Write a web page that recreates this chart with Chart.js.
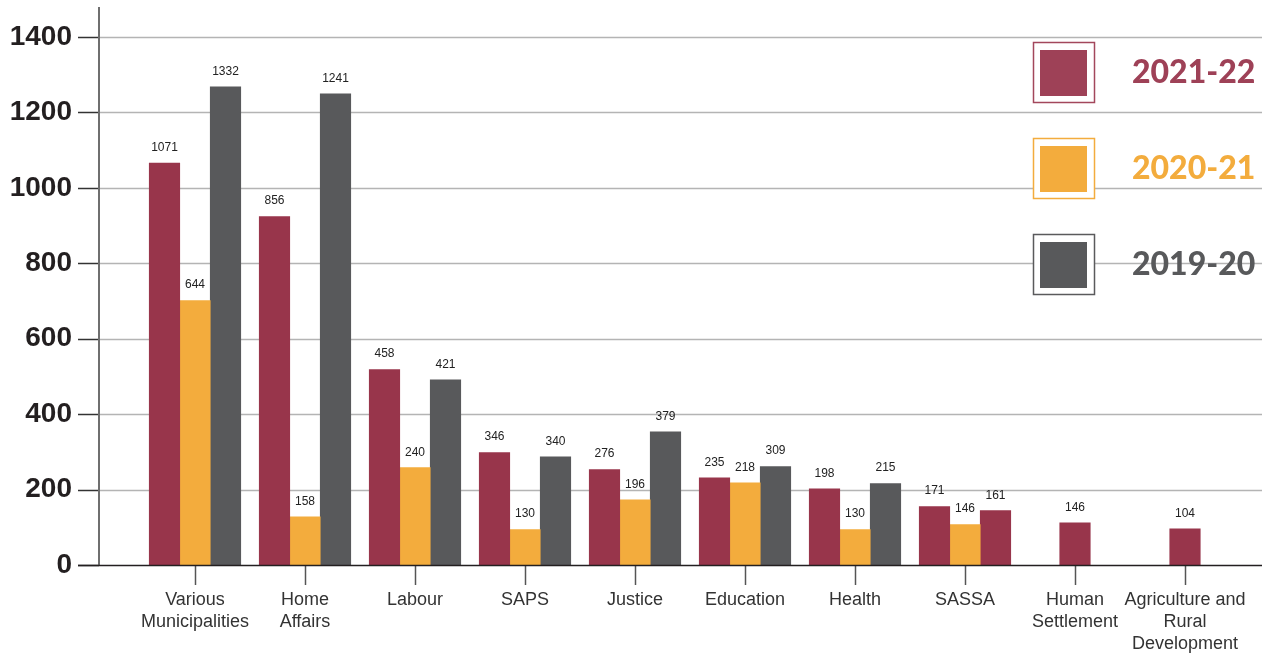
<!DOCTYPE html>
<html>
<head>
<meta charset="utf-8">
<script src="https://cdn.jsdelivr.net/npm/chart.js@4.4.1/dist/chart.umd.min.js"></script>
<style>
  html, body { margin: 0; padding: 0; background: #fff; }
</style>
</head>
<body>
<canvas id="chart" width="1271" height="654"></canvas>
<script>
const categories = [
  ["Various", "Municipalities"], ["Home", "Affairs"], "Labour", "SAPS", "Justice",
  "Education", "Health", "SASSA", ["Human", "Settlement"], ["Agriculture and", "Rural", "Development"]
];

// bar heights as they are drawn in the picture
const bars2122 = [1066, 924, 518, 298, 253, 231, 202, 155, 112, 96];
const bars2021 = [701, 128, 258, 94, 173, 218, 94, 107, null, null];
const bars1920 = [1268, 1249, 491, 287, 353, 261, 216, 144, null, null];

// figures printed above the bars
const labels2122 = [1071, 856, 458, 346, 276, 235, 198, 171, 146, 104];
const labels2021 = [644, 158, 240, 130, 196, 218, 130, 146, null, null];
const labels1920 = [1332, 1241, 421, 340, 379, 309, 215, 161, null, null];

const yTicks = [0, 200, 400, 600, 800, 1000, 1200, 1400];
const seriesNames = ["2021-22", "2020-21", "2019-20"];

const maroon = "#98354b";
const orange = "#f3ac3d";
const grey = "#58595b";
const FONT = "'Liberation Sans', Arial, sans-serif";

const labelSets = [labels2122, labels2021, labels1920];
const legendColors = [["#9e4157", "#a3475c"], [orange, orange], [grey, "#5a5a5c"]];

const framePlugin = {
  id: "frame",
  beforeDatasetsDraw(chart) {
    const c = chart.ctx, y = chart.scales.y, area = chart.chartArea;
    c.save();
    c.lineWidth = 1.5;
    c.strokeStyle = "#b4b4b4";
    yTicks.forEach(v => {
      if (v === 0) return;
      const py = Math.round(y.getPixelForValue(v)) + 0.5;
      c.beginPath(); c.moveTo(99, py); c.lineTo(1262, py); c.stroke();
    });
    c.strokeStyle = "#333";
    yTicks.forEach(v => {
      const py = Math.round(y.getPixelForValue(v)) + 0.5;
      c.beginPath(); c.moveTo(78, py); c.lineTo(99, py); c.stroke();
    });
    c.strokeStyle = "#6f6f6f";
    c.lineWidth = 2;
    c.beginPath(); c.moveTo(99, 7); c.lineTo(99, area.bottom); c.stroke();
    c.restore();
  },
  afterDatasetsDraw(chart) {
    const c = chart.ctx, area = chart.chartArea;
    c.save();
    c.strokeStyle = "#231f20";
    c.lineWidth = 1.5;
    c.beginPath(); c.moveTo(78, area.bottom + 0.5); c.lineTo(1262, area.bottom + 0.5); c.stroke();

    c.font = "12px " + FONT;
    c.fillStyle = "#222";
    c.textAlign = "center";
    c.textBaseline = "middle";
    chart.data.datasets.forEach((ds, i) => {
      chart.getDatasetMeta(i).data.forEach((bar, j) => {
        const t = labelSets[i][j];
        if (t == null) return;
        c.fillText(String(t), bar.x, bar.y - 15.5);
      });
    });
    c.restore();
  },
  afterDraw(chart) {
    const c = chart.ctx;
    c.save();
    seriesNames.forEach((name, i) => {
      const top = 42 + i * 96;
      c.fillStyle = "#fff";
      c.fillRect(1033, top, 62, 61);
      c.strokeStyle = legendColors[i][1];
      c.lineWidth = 1.5;
      c.strokeRect(1033.5, top + 0.5, 61, 60);
      c.fillStyle = legendColors[i][0];
      c.fillRect(1040, top + 8, 47, 46);
      c.font = "900 32px Lato, sans-serif";
      c.textAlign = "left";
      c.textBaseline = "middle";
      c.fillText(name, 1132, top + 31);
    });
    c.restore();
  }
};

new Chart(document.getElementById("chart").getContext("2d"), {
  type: "bar",
  data: {
    labels: categories,
    datasets: [
      { label: seriesNames[0], data: bars2122, backgroundColor: maroon },
      { label: seriesNames[1], data: bars2021, backgroundColor: orange },
      { label: seriesNames[2], data: bars1920,
        // the SASSA 2019-20 bar is coloured maroon in the source
        backgroundColor: bars1920.map((v, i) => i === 7 ? maroon : grey) }
    ]
  },
  options: {
    responsive: false,
    animation: false,
    layout: { padding: { top: 37, right: 31, bottom: 0, left: 0 } },
    datasets: { bar: { barThickness: 30.5, skipNull: true } },
    plugins: { legend: { display: false }, tooltip: { enabled: false } },
    scales: {
      x: {
        offset: true,
        grid: { display: true, drawOnChartArea: false, drawTicks: true, tickLength: 20,
                offset: false, tickColor: "#555", tickWidth: 1.5 },
        border: { display: false },
        ticks: { padding: 4, color: "#333", maxRotation: 0, autoSkip: false,
                 font: { family: FONT, size: 18, lineHeight: 1.22 } },
        afterFit(s) { s.height = 89; }
      },
      y: {
        min: 0,
        max: 1400,
        grid: { display: false, drawTicks: true, tickLength: 68 },
        border: { display: false },
        ticks: { stepSize: 200, padding: 0, color: "#231f20",
                 font: { family: FONT, size: 28, weight: "bold" },
                 callback: v => String(v) },
        afterFit(s) { s.width = 140; }
      }
    }
  },
  plugins: [framePlugin]
});
</script>
</body>
</html>
